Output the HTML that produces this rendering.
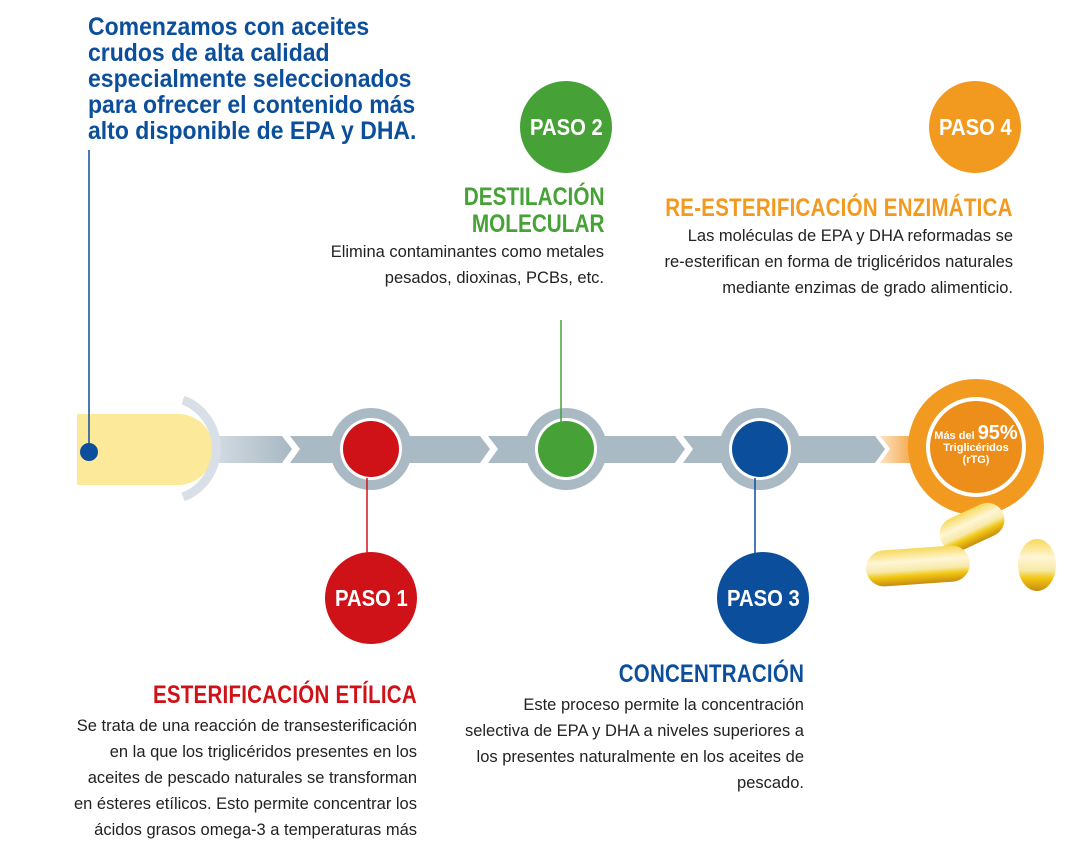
<!DOCTYPE html>
<html><head><meta charset="utf-8"><style>
body{margin:0;width:1070px;height:864px;background:#fff;position:relative;overflow:hidden;font-family:"Liberation Sans Narrow","Liberation Sans",sans-serif}
.t{position:absolute;white-space:nowrap}
.r{text-align:right;transform-origin:right top}
.h{font-weight:bold;font-size:25px;letter-spacing:0.3px;transform:scaleX(0.82)}
.b{font-size:16.5px;line-height:26px;color:#222;transform:scaleX(1)}
.pc{position:absolute;border-radius:50%;color:#fff;font-weight:bold;font-size:23px;display:flex;align-items:center;justify-content:center}
.pc span{display:inline-block;transform:scaleX(0.88)}
</style></head><body>
<svg width="1070" height="864" style="position:absolute;left:0;top:0">
<defs>
<linearGradient id="g1" x1="0" x2="1"><stop offset="0" stop-color="#d6dde4"/><stop offset="1" stop-color="#a7b8c3"/></linearGradient>
<linearGradient id="g2" x1="0" x2="1"><stop offset="0" stop-color="#fde3c4"/><stop offset="1" stop-color="#f29a2e"/></linearGradient>
<linearGradient id="cap" x1="0" y1="0" x2="0" y2="1"><stop offset="0" stop-color="#f6d95a"/><stop offset="0.35" stop-color="#fff6d6"/><stop offset="0.6" stop-color="#f7e9a8"/><stop offset="0.75" stop-color="#f2c814"/><stop offset="1" stop-color="#c98c10"/></linearGradient>
</defs>
<polygon points="210,436 282,436 292,449 282,463 210,463" fill="url(#g1)"/>
<polygon points="290,436 480,436 490,449 480,463 290,463 300,449" fill="#a9bac5"/>
<polygon points="488,436 675,436 685,449 675,463 488,463 498,449" fill="#a9bac5"/>
<polygon points="683,436 875,436 885,449 875,463 683,463 693,449" fill="#a9bac5"/>
<polygon points="880,436 920,436 920,463 880,463 890,449" fill="url(#g2)"/>
<path d="M77,414 L178,414 A35,35 0 0 1 178,485 L77,485 Z" fill="#fde99a"/>
<path d="M183,400 A52,52 0 0 1 183,497" fill="none" stroke="#d9dfe6" stroke-width="9"/>
<circle cx="371" cy="449" r="41" fill="#aabac4"/><circle cx="371" cy="449" r="31" fill="#fff"/><circle cx="371" cy="449" r="28" fill="#cf1217"/>
<circle cx="566" cy="449" r="41" fill="#aabac4"/><circle cx="566" cy="449" r="31" fill="#fff"/><circle cx="566" cy="449" r="28" fill="#46a236"/>
<circle cx="760" cy="449" r="41" fill="#aabac4"/><circle cx="760" cy="449" r="31" fill="#fff"/><circle cx="760" cy="449" r="28" fill="#0b4f9c"/>
<circle cx="976" cy="447" r="68" fill="#f29a1f"/><circle cx="976" cy="447" r="50" fill="#fff"/><circle cx="976" cy="447" r="46" fill="#ee8e1a"/>
<line x1="89" y1="150" x2="89" y2="452" stroke="#0b4f9c" stroke-width="1.5"/>
<circle cx="89" cy="452" r="9" fill="#0b4f9c"/>
<line x1="367" y1="478" x2="367" y2="555" stroke="#cf1217" stroke-width="1.5"/>
<line x1="561" y1="320" x2="561" y2="422" stroke="#46a236" stroke-width="1.5"/>
<line x1="755" y1="478" x2="755" y2="555" stroke="#0b4f9c" stroke-width="1.5"/>
<g transform="rotate(-25 972 527)"><rect x="938" y="510" width="68" height="34" rx="17" fill="url(#cap)"/></g>
<g transform="rotate(-4 918 566)"><rect x="866" y="548" width="104" height="36" rx="18" fill="url(#cap)"/></g>
<ellipse cx="1037" cy="565" rx="19" ry="26" fill="url(#cap)"/>
</svg>
<div class="t" style="left:88px;top:14px;color:#0b4f9c;font-weight:bold;font-size:25px;line-height:26px;transform:scaleX(0.92);transform-origin:left top">Comenzamos con aceites<br>crudos de alta calidad<br>especialmente seleccionados<br>para ofrecer el contenido más<br>alto disponible de EPA y DHA.</div>
<div class="pc" style="left:520px;top:81px;width:92px;height:92px;background:#46a236"><span>PASO 2</span></div>
<div class="pc" style="left:929px;top:81px;width:92px;height:92px;background:#f29a1f"><span>PASO 4</span></div>
<div class="pc" style="left:325px;top:552px;width:92px;height:92px;background:#cf1217"><span>PASO 1</span></div>
<div class="pc" style="left:717px;top:552px;width:92px;height:92px;background:#0b4f9c"><span>PASO 3</span></div>
<div class="t r" style="right:466px;top:184px;color:#46a236;font-weight:bold;font-size:25px;line-height:27px;transform:scaleX(0.83)">DESTILACIÓN<br>MOLECULAR</div>
<div class="t r b" style="right:466px;top:239px">Elimina contaminantes como metales<br>pesados, dioxinas, PCBs, etc.</div>
<div class="t r h" style="right:57px;top:194px;color:#f29a1f">RE-ESTERIFICACIÓN ENZIMÁTICA</div>
<div class="t r b" style="right:57px;top:223px">Las moléculas de EPA y DHA reformadas se<br>re-esterifican en forma de triglicéridos naturales<br>mediante enzimas de grado alimenticio.</div>
<div class="t r h" style="right:653px;top:681px;color:#cf1217">ESTERIFICACIÓN ETÍLICA</div>
<div class="t r b" style="right:653px;top:713px">Se trata de una reacción de transesterificación<br>en la que los triglicéridos presentes en los<br>aceites de pescado naturales se transforman<br>en ésteres etílicos. Esto permite concentrar los<br>ácidos grasos omega-3 a temperaturas más</div>
<div class="t r h" style="right:266px;top:660px;color:#0b4f9c">CONCENTRACIÓN</div>
<div class="t r b" style="right:266px;top:692px">Este proceso permite la concentración<br>selectiva de EPA y DHA a niveles superiores a<br>los presentes naturalmente en los aceites de<br>pescado.</div>
<div class="t" style="left:930px;top:427px;width:92px;text-align:center;color:#fff;font-weight:bold;font-size:11px;line-height:12px">Más del <span style="font-size:20px">95%</span><br>Triglicéridos<br>(rTG)</div>
</body></html>
